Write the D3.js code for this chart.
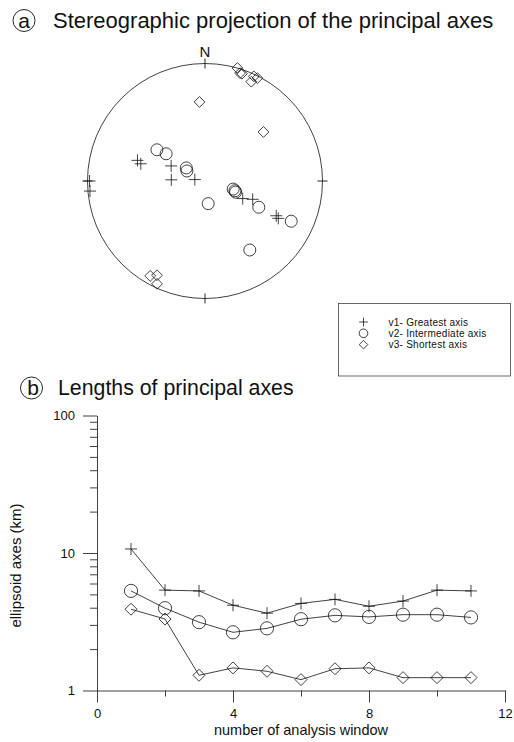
<!DOCTYPE html>
<html>
<head>
<meta charset="utf-8">
<script src="https://cdn.jsdelivr.net/npm/d3@7"></script>
<style>
  html, body { margin: 0; padding: 0; background: #fff; }
  svg { display: block; font-family: "Liberation Sans", Arial, Helvetica, sans-serif; }
</style>
</head>
<body>
<svg id="fig" width="514" height="742"></svg>
<script>
// ---- Orientation of the principal axes, [trend, plunge] in degrees (lower hemisphere)
const v1Orient = [[270, 1], [265, 1], [287, 28], [285, 31], [294, 55], [272, 58],
                  [278, 80], [115, 51], [111, 43], [116, 22], [117, 20]];
const v2Orient = [[303, 38], [305, 46], [305, 68], [299, 70], [106, 62], [108, 60],
                  [110, 59], [172, 68], [116, 36], [115, 12], [147, 20]];
const v3Orient = [[16, 0], [18, 2], [19, 2], [25, 1], [27, 1], [25, 4],
                  [356, 22], [50, 24], [210, 4], [207, 6], [205, 2]];

// ---- Lengths of the principal axes (km) for each analysis window
const windows  = [1, 2, 3, 4, 5, 6, 7, 8, 9, 10, 11];
const v1Length = [10.7, 5.37, 5.3, 4.17, 3.65, 4.3, 4.6, 4.1, 4.47, 5.37, 5.3];
const v2Length = [5.3, 3.97, 3.14, 2.65, 2.83, 3.3, 3.52, 3.43, 3.56, 3.56, 3.4];
const v3Length = [3.9, 3.31, 1.29, 1.46, 1.38, 1.2, 1.44, 1.46, 1.24, 1.24, 1.24];

// ---- Tick values / labels
const xMajorTicks = [0, 4, 8, 12];
const xMinorTicks = [2, 6, 10];
const yMajorTicks = [1, 10, 100];
const compassLabels = ["N"];
const seriesNames = ["v1- Greatest axis", "v2- Intermediate axis", "v3- Shortest axis"];
const seriesShapes = ["plus", "circle", "diamond"];

const svg = d3.select("#fig");
const ink = "#111";

// marker drawing helper
function drawMarker(g, shape, px, py, s) {
  if (shape === "circle") {
    g.append("circle").attr("cx", px).attr("cy", py).attr("r", s)
      .attr("fill", "none").attr("stroke", ink).attr("stroke-width", 0.8);
  } else if (shape === "plus") {
    g.append("path").attr("d", `M${px - s},${py}H${px + s}M${px},${py - s}V${py + s}`)
      .attr("fill", "none").attr("stroke", ink).attr("stroke-width", 0.8);
  } else {
    g.append("path").attr("d", `M${px},${py - s}L${px + s},${py}L${px},${py + s}L${px - s},${py}Z`)
      .attr("fill", "none").attr("stroke", ink).attr("stroke-width", 0.8);
  }
}

// circled panel letter + heading
function heading(letter, cx, cy, lx, ly, tx, ty, text, fs) {
  svg.append("circle").attr("cx", cx).attr("cy", cy).attr("r", 11)
    .attr("fill", "none").attr("stroke", ink).attr("stroke-width", 0.9);
  svg.append("text").attr("x", lx).attr("y", ly).attr("text-anchor", "middle")
    .attr("font-size", 21).attr("fill", ink).text(letter);
  svg.append("text").attr("x", tx).attr("y", ty)
    .attr("font-size", fs).attr("fill", ink).text(text);
}

// =================== (a) stereographic projection ===================
heading("a", 24, 20.5, 24, 27.5, 53, 27.5, "Stereographic projection of the principal axes", 22);

const netCx = 205, netCy = 181, netR = 117.5;
// equal-angle projection centred on the vertical; longitude = 180 - trend
// so that trends read clockwise from north
const proj = d3.geoStereographic()
  .rotate([0, -90])
  .scale(netR)
  .translate([netCx, netCy])
  .clipAngle(179);
const place = ([trend, plunge]) => proj([180 - trend, plunge]);

const net = svg.append("g");
net.append("circle").attr("cx", netCx).attr("cy", netCy).attr("r", netR)
  .attr("fill", "none").attr("stroke", ink).attr("stroke-width", 0.8);

// cardinal ticks on the primitive circle
[0, 90, 180, 270].forEach(az => {
  const a = az * Math.PI / 180;
  const r0 = netR - 5, r1 = netR + 5;
  net.append("line")
    .attr("x1", netCx + r0 * Math.sin(a)).attr("y1", netCy - r0 * Math.cos(a))
    .attr("x2", netCx + r1 * Math.sin(a)).attr("y2", netCy - r1 * Math.cos(a))
    .attr("stroke", ink).attr("stroke-width", 0.9);
});
net.append("text").attr("x", netCx).attr("y", netCy - netR - 7)
  .attr("text-anchor", "middle").attr("font-size", 15).attr("fill", ink)
  .text(compassLabels[0]);

[v1Orient, v2Orient, v3Orient].forEach((set, i) => {
  const size = [6, 6, 5.4][i];
  set.forEach(d => {
    const [px, py] = place(d);
    drawMarker(net, seriesShapes[i], px, py, size);
  });
});

// legend
const leg = svg.append("g");
leg.append("rect").attr("x", 338.5).attr("y", 303.5).attr("width", 172).attr("height", 72.5)
  .attr("fill", "none").attr("stroke", "#444").attr("stroke-width", 0.8);
seriesNames.forEach((name, i) => {
  const yy = 322 + i * 11.3;
  drawMarker(leg, seriesShapes[i], 363.5, yy, 4.3);
  leg.append("text").attr("x", 388.5).attr("y", yy + 3.6)
    .attr("font-size", 10).attr("letter-spacing", 0.25).attr("fill", ink).text(name);
});

// =================== (b) lengths of principal axes ===================
heading("b", 31.5, 388, 33, 395, 58, 395, "Lengths of principal axes", 21.3);

const x = d3.scaleLinear().domain([0, 12]).range([97, 505]);
const y = d3.scaleLog().domain([1, 100]).range([690.5, 415.5]);

function styleAxis(g) {
  g.selectAll("path, line").attr("stroke", ink).attr("stroke-width", 0.8);
  g.selectAll("text").attr("font-size", 13).attr("fill", ink)
    .attr("font-family", "'Liberation Sans', Arial, sans-serif");
}

// x axis: labelled major ticks, short minor ticks
svg.append("g").attr("transform", `translate(0,${y(1)})`)
  .call(d3.axisBottom(x).tickValues(xMajorTicks).tickSize(12).tickSizeOuter(0)
    .tickPadding(6).tickFormat(d3.format("d")))
  .call(styleAxis);
svg.append("g").attr("transform", `translate(0,${y(1)})`)
  .call(d3.axisBottom(x).tickValues(xMinorTicks).tickSize(6).tickSizeOuter(0).tickFormat(""))
  .call(g => g.select(".domain").remove())
  .call(styleAxis);

// y axis (log): decades labelled, 2..9 as minor ticks
const yMinorTicks = [];
for (let dec = 1; dec < 100; dec *= 10) for (let m = 2; m <= 9; m++) yMinorTicks.push(m * dec);
svg.append("g").attr("transform", `translate(${x(0)},0)`)
  .call(d3.axisLeft(y).tickValues(yMajorTicks).tickSize(14).tickSizeOuter(0)
    .tickPadding(8).tickFormat(d3.format("d")))
  .call(styleAxis);
svg.append("g").attr("transform", `translate(${x(0)},0)`)
  .call(d3.axisLeft(y).tickValues(yMinorTicks).tickSize(7).tickSizeOuter(0).tickFormat(""))
  .call(g => g.select(".domain").remove())
  .call(styleAxis);

// axis titles
svg.append("text").attr("x", 301).attr("y", 735).attr("text-anchor", "middle")
  .attr("font-size", 14.5).attr("fill", ink).text("number of analysis window");
svg.append("text").attr("transform", "translate(21,565.5) rotate(-90)")
  .attr("text-anchor", "middle").attr("font-size", 15).attr("fill", ink)
  .text("ellipsoid axes (km)");

// series
const line = d3.line().x(d => x(d[0])).y(d => y(d[1]));
const plot = svg.append("g");
[v1Length, v2Length, v3Length].forEach((vals, i) => {
  const pts = windows.map((w, k) => [w, vals[k]]);
  plot.append("path").attr("d", line(pts))
    .attr("fill", "none").attr("stroke", ink).attr("stroke-width", 0.8);
  const size = [6, 6.6, 6][i];
  pts.forEach(p => drawMarker(plot, seriesShapes[i], x(p[0]), y(p[1]), size));
});
</script>
</body>
</html>
